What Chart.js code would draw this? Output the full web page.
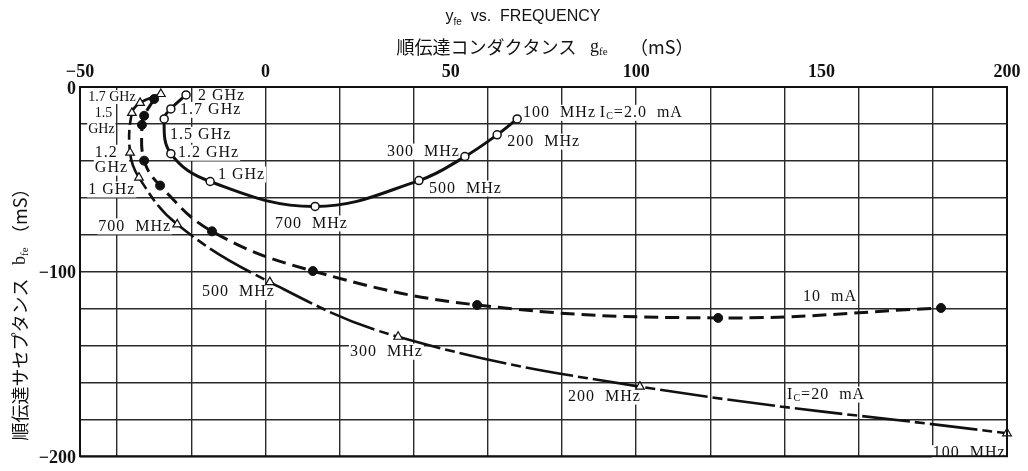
<!DOCTYPE html>
<html>
<head>
<meta charset="utf-8">
<script src="https://cdn.jsdelivr.net/npm/chart.js@4"></script>
<style>
html, body { margin: 0; padding: 0; background: #fff; }
#wrap { width: 1028px; height: 471px; }
</style>
</head>
<body>
<div id="wrap"><canvas id="yfe" width="1028" height="471"></canvas></div>
<script>
// frecuencias de cada punto (de 2 GHz a 100 MHz)
const freqs = ["2 GHz", "1.7 GHz", "1.5 GHz", "1.2 GHz", "1 GHz", "700 MHz", "500 MHz", "300 MHz", "200 MHz", "100 MHz"];

// Ic = 2.0 mA
const gfe_2mA = [-21.4, -25.5, -27.3, -25.5, -14.9, 13.4, 41.4, 53.8, 62.5, 67.9];
const bfe_2mA = [-4.3, -11.9, -17.3, -36.1, -51.2, -64.7, -50.7, -37.7, -25.9, -17.3];

// Ic = 10 mA
const gfe_10mA = [-30.0, -32.7, -33.3, -32.7, -28.4, -14.4, 12.8, 57.1, 122.1, 182.2];
const bfe_10mA = [-6.5, -15.6, -20.5, -39.9, -53.4, -78.2, -99.7, -118.1, -125.1, -119.7];

// Ic = 20 mA
const gfe_20mA = [-28.2, -33.8, -36.0, -36.5, -34.1, -23.8, 1.2, 35.8, 101.0, 200.0];
const bfe_20mA = [-3.8, -8.6, -14.0, -35.6, -49.1, -74.4, -105.7, -135.3, -162.3, -187.6];

// etiquetas de los ejes
const xTickLabels = [-50, 0, 50, 100, 150, 200];
const yTickLabels = [0, -100, -200];

function toPoints(xs, ys) {
    return xs.map((x, i) => ({ x: x, y: ys[i], f: freqs[i] }));
}

// anotaciones sobre el gráfico (en unidades de los ejes)
const notes = [
    { t: "2 GHz", x: -18.2, y: -4.9 },
    { t: "1.7 GHz", x: -23.0, y: -12.4 },
    { t: "1.5 GHz", x: -25.7, y: -25.9 },
    { t: "1.2 GHz", x: -23.6, y: -35.6 },
    { t: "1 GHz", x: -12.8, y: -47.4 },
    { t: "700  MHz", x: 2.6, y: -73.9 },
    { t: "500  MHz", x: 44.1, y: -55.0 },
    { t: "300  MHz", x: 32.8, y: -35.0 },
    { t: "200  MHz", x: 65.2, y: -29.6 },
    { t: "100  MHz", x: 69.5, y: -14.0 },
    { t: "I_C=2.0  mA", x: 90.2, y: -14.0 },
    { t: "1.7 GHz", x: -47.8, y: -5.4, small: true },
    { t: "1.5", x: -46.0, y: -14.0, small: true },
    { t: "GHz", x: -47.8, y: -23.2, small: true },
    { t: "1.2", x: -46.0, y: -35.6 },
    { t: "GHz", x: -46.0, y: -43.7 },
    { t: "1 GHz", x: -47.8, y: -55.5 },
    { t: "700  MHz", x: -45.1, y: -75.5 },
    { t: "500  MHz", x: -17.1, y: -111.1 },
    { t: "300  MHz", x: 22.8, y: -143.4 },
    { t: "200  MHz", x: 81.6, y: -167.7 },
    { t: "I_C=20  mA", x: 140.7, y: -166.6 },
    { t: "100  MHz", x: 180.0, y: -198.4 },
    { t: "10  mA", x: 145.0, y: -113.7 },
];

// dibuja texto con subíndices ("I_C" -> I con C abajo)
function drawRich(ctx, parts, x, y, align, bg) {
    let w = 0;
    parts.forEach(p => { ctx.font = p.font; w += ctx.measureText(p.t).width; });
    let cx = align === "center" ? x - w / 2 : (align === "right" ? x - w : x);
    if (bg) {
        ctx.fillStyle = "#fff";
        ctx.fillRect(cx - 1, y - bg / 2, w + 2, bg);
    }
    ctx.fillStyle = "#111";
    ctx.textAlign = "left";
    ctx.textBaseline = "middle";
    parts.forEach(p => {
        ctx.font = p.font;
        ctx.fillText(p.t, cx, y + (p.dy || 0));
        cx += ctx.measureText(p.t).width;
    });
}

function noteParts(text, size) {
    const font = size + "px 'Liberation Serif'";
    const subFont = Math.round(size * 0.6) + "px 'Liberation Serif'";
    const out = [];
    text.split(/_(\w)/).forEach((s, i) => {
        if (!s) return;
        if (i % 2 === 1) out.push({ t: s, font: subFont, dy: 4 });
        else out.push({ t: s, font: font });
    });
    return out;
}

const decorPlugin = {
    id: "decor",
    beforeDatasetsDraw(chart) {
        const ctx = chart.ctx;
        const xs = chart.scales.x, ys = chart.scales.y;
        ctx.save();
        notes.forEach(n => {
            const size = n.small ? 14 : 16;
            ctx.letterSpacing = n.small ? "0px" : "1px";
            drawRich(ctx, noteParts(n.t, size), xs.getPixelForValue(n.x), ys.getPixelForValue(n.y), "left", size);
        });
        ctx.restore();
    },
    afterDraw(chart) {
        const ctx = chart.ctx;
        const a = chart.chartArea;
        ctx.save();
        // marco
        ctx.strokeStyle = "#111";
        ctx.lineWidth = 2;
        ctx.strokeRect(a.left, a.top, a.right - a.left, a.bottom - a.top);

        // títulos
        ctx.letterSpacing = "0px";
        const sans = "16px 'Liberation Sans'";
        const sansSub = "10px 'Liberation Sans'";
        drawRich(ctx, [
            { t: "y", font: sans },
            { t: "fe", font: sansSub, dy: 5 },
            { t: "  vs.  FREQUENCY", font: sans },
        ], 523, 17, "center");

        const jp = "18px 'Noto Sans CJK JP'";
        const serif = "18px 'Liberation Serif'";
        const serifSub = "11px 'Liberation Serif'";
        drawRich(ctx, [
            { t: "順伝達コンダクタンス", font: jp },
            { t: "   g", font: serif },
            { t: "fe", font: serifSub, dy: 5 },
            { t: "     ", font: serif },
            { t: "（mS）", font: jp },
        ], 545, 47, "center");

        ctx.translate(20, 310);
        ctx.rotate(-Math.PI / 2);
        drawRich(ctx, [
            { t: "順伝達サセプタンス", font: jp },
            { t: "   b", font: serif },
            { t: "fe", font: serifSub, dy: 5 },
            { t: " ", font: serif },
            { t: "（mS）", font: jp },
        ], 0, 0, "center");
        ctx.restore();
    },
};

const tickFont = { family: "'Liberation Serif'", size: 18, weight: "bold" };
const gridColor = (c) => (c.tick && c.tick.value % 20 === 0 ? "#2a2a2a" : "rgba(0,0,0,0)");
const fmt = (v) => (v < 0 ? "\u2212" + Math.abs(v) : String(v));

const config = {
    type: "scatter",
    data: {
        datasets: [
            {
                label: "Ic = 2.0 mA",
                data: toPoints(gfe_2mA, bfe_2mA),
                showLine: true,
                tension: 0.4,
                borderColor: "#111",
                borderWidth: 3,
                pointStyle: "circle",
                pointRadius: 4,
                pointBorderWidth: 1.5,
                pointBackgroundColor: "#fff",
                pointBorderColor: "#111",
                clip: false,
            },
            {
                label: "Ic = 10 mA",
                data: toPoints(gfe_10mA, bfe_10mA),
                showLine: true,
                tension: 0.4,
                borderColor: "#111",
                borderWidth: 3,
                borderDash: [14, 7],
                pointStyle: "circle",
                pointRadius: 4.5,
                pointBorderWidth: 1,
                pointBackgroundColor: "#111",
                pointBorderColor: "#111",
                clip: false,
            },
            {
                label: "Ic = 20 mA",
                data: toPoints(gfe_20mA, bfe_20mA),
                showLine: true,
                tension: 0.4,
                borderColor: "#111",
                borderWidth: 2.6,
                borderDash: [48, 5, 10, 5],
                pointStyle: "triangle",
                pointRadius: 5,
                pointBorderWidth: 1.2,
                pointBackgroundColor: "#fff",
                pointBorderColor: "#111",
                clip: false,
            },
        ],
    },
    options: {
        responsive: false,
        animation: false,
        devicePixelRatio: 1,
        layout: { padding: { left: 0, right: 21, top: 0, bottom: 13 } },
        plugins: {
            legend: { display: false },
            tooltip: { enabled: false },
        },
        scales: {
            x: {
                type: "linear",
                position: "top",
                min: -50,
                max: 200,
                afterFit: (s) => { s.height = 87; },
                border: { display: false },
                grid: { color: gridColor, lineWidth: 1.4, drawTicks: false },
                ticks: {
                    stepSize: 10,
                    autoSkip: false,
                    maxRotation: 0,
                    padding: 4,
                    color: "#111",
                    font: tickFont,
                    callback: (v) => (xTickLabels.includes(v) ? fmt(v) : ""),
                },
            },
            y: {
                type: "linear",
                min: -200,
                max: 0,
                afterFit: (s) => { s.width = 80; },
                border: { display: false },
                grid: { color: gridColor, lineWidth: 1.4, drawTicks: false },
                ticks: {
                    stepSize: 10,
                    autoSkip: false,
                    padding: 4,
                    labelOffset: 2,
                    color: "#111",
                    font: tickFont,
                    callback: (v) => (yTickLabels.includes(v) ? fmt(v) : ""),
                },
            },
        },
    },
    plugins: [decorPlugin],
};

const chart = new Chart(document.getElementById("yfe").getContext("2d"), config);
</script>
</body>
</html>
